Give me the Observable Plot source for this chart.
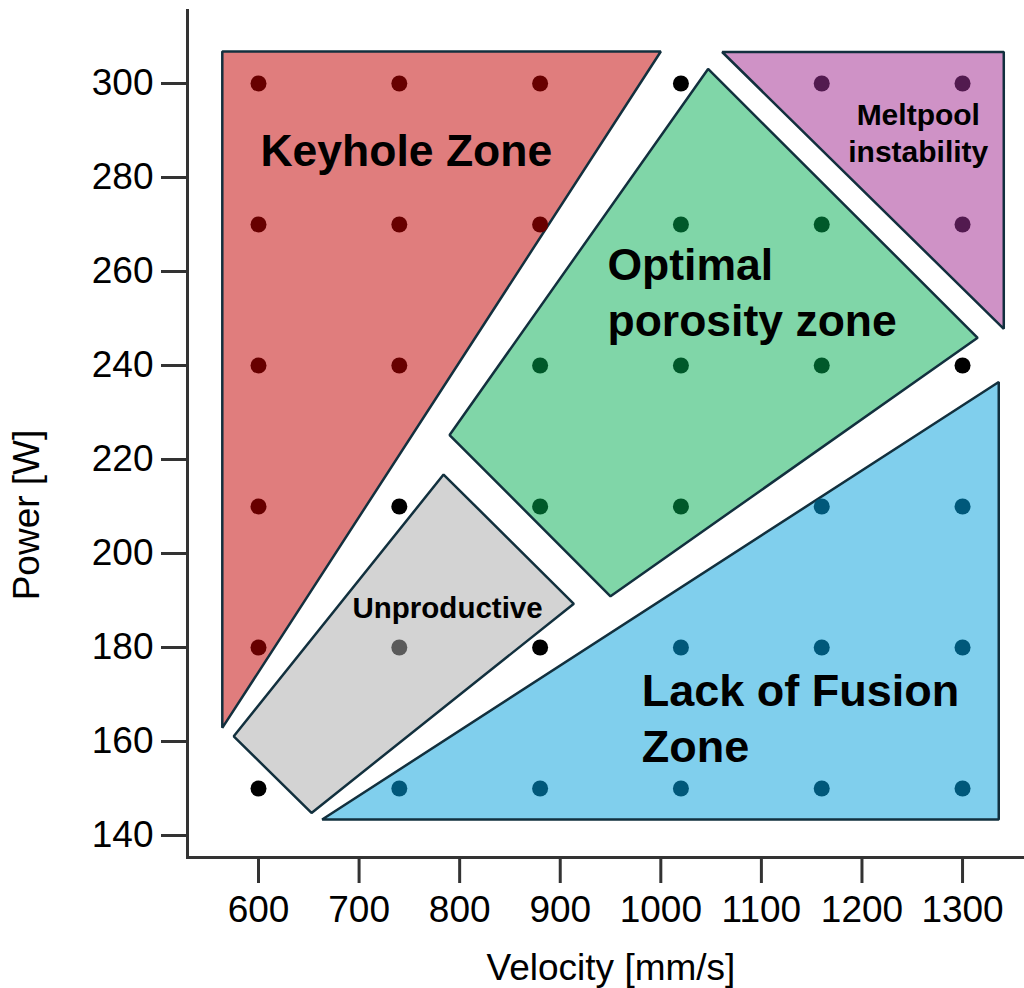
<!DOCTYPE html>
<html>
<head>
<meta charset="utf-8">
<script src="https://cdn.jsdelivr.net/npm/d3@7"></script>
<script src="https://cdn.jsdelivr.net/npm/@observablehq/plot@0.6"></script>
<style>
  html, body { margin: 0; padding: 0; background: #fff; }
  #chart svg { display: block; }
</style>
</head>
<body>
<div id="chart"></div>
<script>
// ---- Data ----
const velocities = [600, 740, 880, 1020, 1160, 1300];
const powers = [300, 270, 240, 210, 180, 150];
// zone of each test point, rows follow `powers`, columns follow `velocities`
const pointZones = [
  ["K", "K", "K", "-", "M", "M"],
  ["K", "K", "K", "O", "O", "M"],
  ["K", "K", "O", "O", "O", "-"],
  ["K", "-", "O", "O", "L", "L"],
  ["K", "U", "-", "L", "L", "L"],
  ["-", "L", "L", "L", "L", "L"]
];
const xTicks = [600, 700, 800, 900, 1000, 1100, 1200, 1300];
const yTicks = [140, 160, 180, 200, 220, 240, 260, 280, 300];

// zone outlines (velocity, power)
const zoneKeyhole = [[564, 306.8], [1000, 306.8], [564, 162.9]];
const zoneMeltpool = [[1061, 306.7], [1341, 306.7], [1341, 247.8]];
const zoneOptimal = [[1047, 303.1], [1315, 245.9], [950, 190.9], [790, 225.2]];
const zoneUnproductive = [[784, 216.8], [913.5, 189.3], [652.7, 144.8], [575.4, 161.1]];
const zoneLackOfFusion = [[1336, 236.5], [1336, 143.4], [663.3, 143.4]];

const zoneNames = ["Keyhole Zone", "Optimal\nporosity zone", "Meltpool\ninstability", "Unproductive", "Lack of Fusion\nZone"];
const zoneLabelX = [747, 947, 1256, 788, 981];
const zoneLabelY = [286.3, 256.0, 289.8, 188.8, 165.4];

const zoneFill = {K: "#e07d7d", O: "#80d6a8", M: "#cf92c6", U: "#d3d3d3", L: "#80cfed"};
const zoneDot = {K: "#680000", O: "#00592a", M: "#521a4f", U: "#5a5a5a", L: "#00587a", "-": "#000000"};

// ---- Build tables ----
const points = [];
powers.forEach((p, i) => velocities.forEach((v, j) => points.push({v, p, zone: pointZones[i][j]})));

const polygons = [
  {zone: "K", pts: zoneKeyhole},
  {zone: "M", pts: zoneMeltpool},
  {zone: "O", pts: zoneOptimal},
  {zone: "U", pts: zoneUnproductive},
  {zone: "L", pts: zoneLackOfFusion}
];

const labels = zoneNames.map((t, i) => ({t, x: zoneLabelX[i], y: zoneLabelY[i]}));
const labelStyle = [
  {size: 44.5, anchor: "middle"},
  {size: 44.5, anchor: "start"},
  {size: 30, anchor: "middle"},
  {size: 29.5, anchor: "middle"},
  {size: 45, anchor: "start"}
];

const FONT = "Liberation Sans, Arial, Helvetica, sans-serif";

const marks = [];
for (const poly of polygons) {
  marks.push(Plot.line(poly.pts, {
    x: d => d[0], y: d => d[1],
    curve: "linear-closed",
    fill: zoneFill[poly.zone],
    stroke: "#12303e",
    strokeWidth: 2.5,
    strokeLinejoin: "miter"
  }));
}
marks.push(Plot.dot(points, {x: "v", y: "p", r: 8, fill: d => zoneDot[d.zone], stroke: null}));
labels.forEach((l, i) => {
  marks.push(Plot.text([l], {
    x: "x", y: "y", text: "t",
    fontSize: labelStyle[i].size,
    fontWeight: "bold",
    textAnchor: labelStyle[i].anchor,
    lineHeight: 1.25,
    fill: "#000"
  }));
});
marks.push(Plot.axisX(xTicks, {tickSize: 26, tickPadding: 12, tickFormat: "d", stroke: "#333", strokeWidth: 3, fill: "#000", label: null, fontSize: 37}));
marks.push(Plot.axisY(yTicks, {tickSize: 26, tickPadding: 8, tickFormat: "d", stroke: "#333", strokeWidth: 3, fill: "#000", label: null, fontSize: 37}));
marks.push(Plot.frame({anchor: "left", stroke: "#333", strokeWidth: 3}));
marks.push(Plot.frame({anchor: "bottom", stroke: "#333", strokeWidth: 3}));
marks.push(Plot.text(["Velocity [mm/s]"], {frameAnchor: "bottom", textAnchor: "middle", lineAnchor: "bottom", dy: 122, dx: 5, fontSize: 37, fill: "#000"}));
marks.push(Plot.text(["Power [W]"], {frameAnchor: "left", textAnchor: "middle", lineAnchor: "middle", rotate: -90, dx: -160, dy: 81, fontSize: 37, fill: "#000"}));

const chart = Plot.plot({
  width: 1024,
  height: 988,
  marginLeft: 187,
  marginRight: 0,
  marginTop: 10,
  marginBottom: 131,
  x: {domain: [529.4, 1361.6]},
  y: {domain: [135.32, 315.53]},
  color: {type: "identity"},
  style: {fontFamily: FONT, fontSize: "37px", background: "#fff", color: "#000", overflow: "visible"},
  marks
});
document.getElementById("chart").appendChild(chart);
</script>
</body>
</html>
